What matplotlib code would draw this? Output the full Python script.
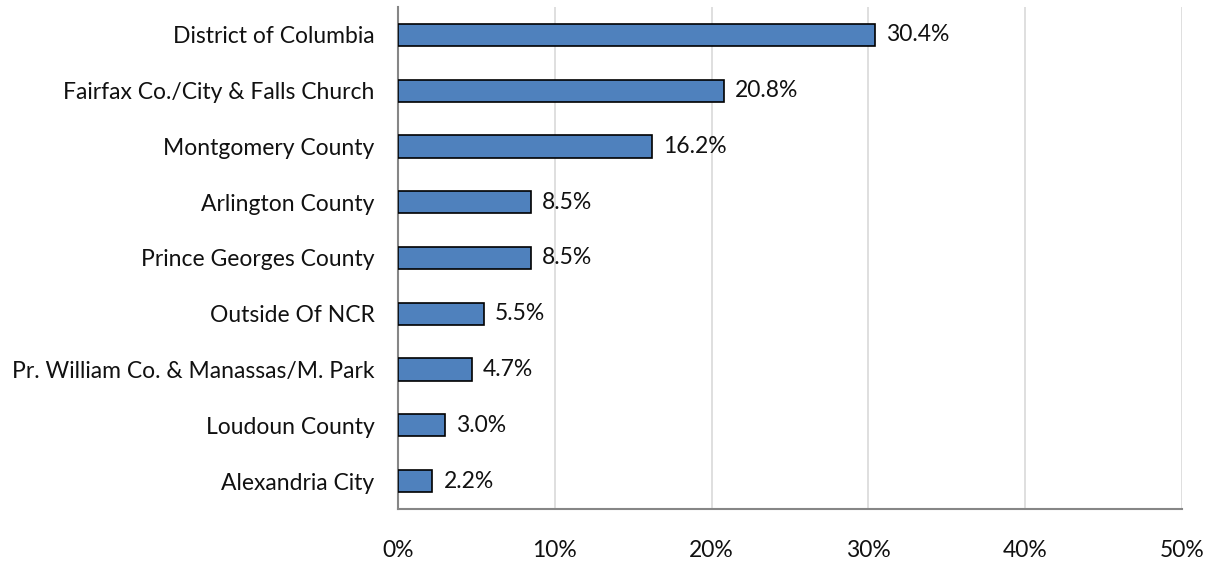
import numpy as np
import matplotlib.pyplot as plt

plt.rcParams['font.family'] = ['Lato', 'DejaVu Sans']

regions = ['District of Columbia', 'Fairfax Co./City & Falls Church', 'Montgomery County',
           'Arlington County', 'Prince Georges County', 'Outside Of NCR',
           'Pr. William Co. & Manassas/M. Park', 'Loudoun County', 'Alexandria City']
shares = [30.4, 20.8, 16.2, 8.5, 8.5, 5.5, 4.7, 3.0, 2.2]
ticks = [0, 10, 20, 30, 40, 50]

fig = plt.figure(figsize=(12.2, 5.64), dpi=100)
ax = fig.add_axes([398 / 1220, 55 / 564, 784 / 1220, 502 / 564])

y = np.arange(len(regions))
ax.barh(y, shares, height=0.4, color='#4F81BD', edgecolor='black', linewidth=1.2, zorder=3)
for yi, v in zip(y, shares):
    ax.text(v + 0.7, yi, f'{v:.1f}%', va='center', ha='left', fontsize=16.5, color='#111111')

ax.set_ylim(len(regions) - 0.5, -0.5)
ax.set_xlim(0, 50)
ax.set_yticks(y)
ax.set_yticklabels(regions, fontsize=16.5)
ax.set_xticks(ticks)
ax.set_xticklabels([f'{t}%' for t in ticks], fontsize=16.5)
ax.tick_params(axis='both', length=0, colors='#111111')
ax.tick_params(axis='x', pad=22)
ax.tick_params(axis='y', pad=17)
ax.grid(axis='x', color='#D9D9D9', linewidth=1.2, zorder=0)

for side in ['top', 'right']:
    ax.spines[side].set_visible(False)
for side in ['left', 'bottom']:
    ax.spines[side].set_color('#868686')
    ax.spines[side].set_linewidth(1.5)

fig.savefig('out.png', dpi=100)
